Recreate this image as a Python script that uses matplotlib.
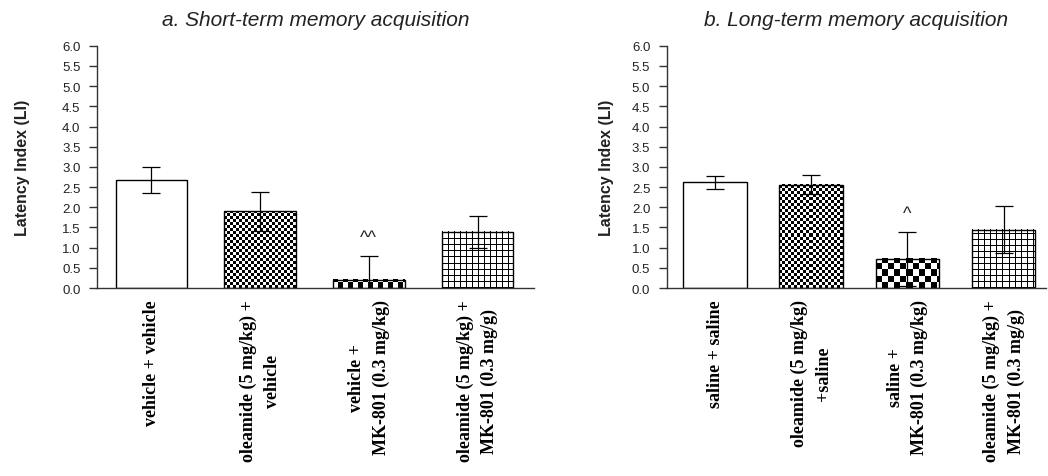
import numpy as np
import matplotlib
matplotlib.use('Agg')
import matplotlib.pyplot as plt

# a. short-term memory acquisition
labels_a = ['vehicle + vehicle', 'oleamide (5 mg/kg) +\nvehicle',
            'vehicle +\nMK-801 (0.3 mg/kg)', 'oleamide (5 mg/kg) +\nMK-801 (0.3 mg/g)']
mean_a = [2.68, 1.90, 0.21, 1.39]
err_a = [0.32, 0.48, 0.59, 0.39]
sig_a = ['', '', '^^', '']

# b. long-term memory acquisition
labels_b = ['saline + saline', 'oleamide (5 mg/kg)\n+saline',
            'saline +\nMK-801 (0.3 mg/kg)', 'oleamide (5 mg/kg) +\nMK-801 (0.3 mg/g)']
mean_b = [2.62, 2.56, 0.72, 1.45]
err_b = [0.16, 0.24, 0.68, 0.57]
sig_b = ['', '', '^', '']

yticks = np.arange(0, 6.01, 0.5)

# fill style of each group: none, fine checker, coarse checker, grid
patterns = ['none', 'fine', 'coarse', 'grid']

plt.rcParams['font.family'] = 'Liberation Sans'
TXT = '#222222'


def pattern_image(kind, w, h, cell):
    yy, xx = np.mgrid[0:h, 0:w]
    if kind == 'grid':
        return ((xx % cell == 0) | (yy % cell == 0)).astype(float)
    return (((xx // cell) + (yy // cell)) % 2).astype(float)


def panel(ax, labels, means, errs, sigs, title, xmax, cells, ylab_x):
    x = np.arange(len(means))
    ax.set_xlim(-0.5, xmax)
    ax.set_ylim(0, 6)
    bars = ax.bar(x, means, width=0.66, color='white', edgecolor='none', zorder=1)
    for bar, kind in zip(bars, patterns):
        if kind == 'none':
            continue
        ext = bar.get_window_extent()
        w, h = max(int(round(ext.width)), 1), max(int(round(ext.height)), 1)
        img = pattern_image(kind, w, h, cells[kind])
        ax.imshow(img, extent=(bar.get_x(), bar.get_x() + bar.get_width(), 0, bar.get_height()),
                  cmap='gray_r', vmin=0, vmax=1, interpolation='nearest',
                  aspect='auto', origin='lower', zorder=1.5)
    ax.bar(x, means, width=0.66, fill=False, edgecolor='black', linewidth=1.0, zorder=2)
    ax.errorbar(x, means, yerr=errs, fmt='none', ecolor='black', elinewidth=0.9,
                capsize=6.5, capthick=0.9, zorder=3)
    for xi, m, e, s in zip(x, means, errs, sigs):
        if s:
            ax.annotate(s, (xi, m + e), xytext=(0, 13), textcoords='offset points',
                        ha='center', va='center', fontsize=13, color=TXT)
    ax.set_xlim(-0.5, xmax)
    ax.set_ylim(0, 6)

    for side in ['top', 'right']:
        ax.spines[side].set_visible(False)
    for side in ['left', 'bottom']:
        ax.spines[side].set_linewidth(1.0)
        ax.spines[side].set_color('#333333')

    ax.set_yticks(yticks)
    ax.set_yticklabels(['%.1f' % v for v in yticks])
    ax.tick_params(axis='y', direction='out', length=6, width=1.0, color='#333333',
                   labelsize=9.5, labelcolor=TXT, pad=6)
    ax.set_xticks(x)
    ax.set_xticklabels(labels, rotation=90, fontfamily='Liberation Serif',
                       fontweight='bold', fontsize=13, linespacing=1.55)
    ax.tick_params(axis='x', length=0, pad=8)

    ax.set_ylabel('Latency Index (LI)', fontsize=11.5, fontweight='bold', color=TXT)
    ax.yaxis.set_label_coords(ylab_x, 0.5)
    ax.set_title(title, fontstyle='italic', fontsize=15, color=TXT, pad=15)


fig = plt.figure(figsize=(10.48, 4.77), dpi=100)
ax_a = fig.add_axes([0.0926, 0.394, 0.417, 0.508])
ax_b = fig.add_axes([0.6364, 0.394, 0.3616, 0.508])

panel(ax_a, labels_a, mean_a, err_a, sig_a, 'a. Short-term memory acquisition',
      3.52, {'fine': 3, 'coarse': 5, 'grid': 6}, -0.153)
panel(ax_b, labels_b, mean_b, err_b, sig_b, 'b. Long-term memory acquisition',
      3.44, {'fine': 3, 'coarse': 6, 'grid': 6}, -0.140)

plt.savefig('out.png', dpi=100)
